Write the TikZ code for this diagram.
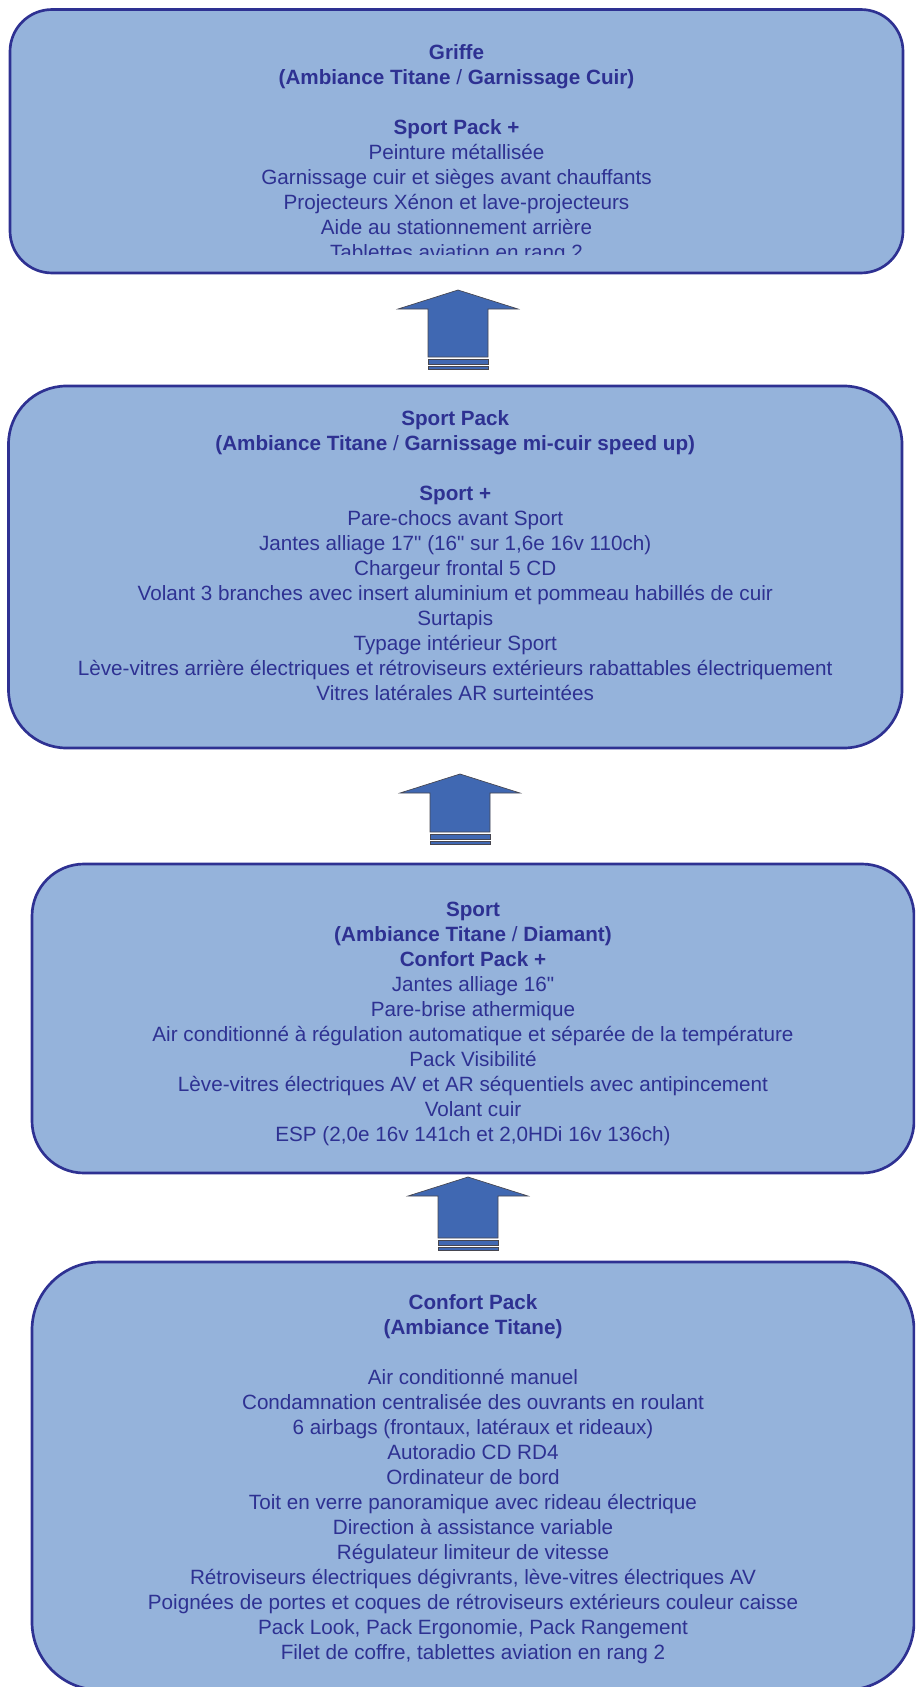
\documentclass[tikz,border=0pt]{standalone}
\usepackage{fontspec}
\setmainfont{Liberation Sans}[Ligatures=TeXOff]
\usepackage{xcolor}
\usetikzlibrary{positioning}

\definecolor{boxfill}{RGB}{149,179,219}
\definecolor{boxline}{RGB}{46,49,146}
\definecolor{boxtext}{RGB}{46,49,146}
\definecolor{arrowfill}{RGB}{64,104,178}
\definecolor{arrowline}{RGB}{70,70,80}

\tikzset{
  levelbox/.style={draw=boxline, line width=2pt, fill=boxfill, rectangle, inner sep=0pt},
  leveltext/.style={align=center, inner sep=0pt, text=boxtext,
    font=\fontsize{15.5pt}{18.75pt}\selectfont},
  pics/upgrade/.style={code={
    \filldraw[fill=arrowfill, draw=arrowline, line width=0.5pt]
      (0,0) -- (60,19) -- (30,19) -- (30,#1) -- (-30,#1) -- (-30,19) -- (-60,19) -- cycle;
    \filldraw[fill=arrowfill, draw=arrowline, line width=0.5pt] (-30,#1+2) rectangle (30,#1+7);
    \filldraw[fill=arrowfill, draw=arrowline, line width=0.5pt] (-30,#1+9.5) rectangle (30,#1+12);
  }}
}

\begin{document}
\begin{tikzpicture}[x=0.75pt, y=-0.75pt]
  \useasboundingbox (0,0) rectangle (915,1687);
  \clip (0,0) rectangle (915,1687);

  % the four levels, top to bottom
  \node[levelbox, rounded corners=31.5pt, minimum width=669.75pt, minimum height=197.6pt] (griffe) at (456.5,141.25) {};
  \node[levelbox, rounded corners=43.5pt, minimum width=670.1pt, minimum height=271.5pt] (sportpack) at (455.25,567) {};
  \node[levelbox, rounded corners=39pt, minimum width=661.5pt, minimum height=231.75pt] (sport) at (473,1018.5) {};
  \node[levelbox, rounded corners=51pt, minimum width=661.5pt, minimum height=321pt] (confort) at (473,1476) {};

  \begin{scope}
    \clip (griffe.north west) rectangle ([yshift=15pt]griffe.south east);
    \node[leveltext, below=27.4pt of griffe.north] (griffetext) {%
      \textbf{Griffe}\\
      \textbf{(Ambiance Titane} / \textbf{Garnissage Cuir)}\\[18.75pt]
      \textbf{Sport Pack +}\\
      Peinture métallisée\\
      Garnissage cuir et sièges avant chauffants\\
      Projecteurs Xénon et lave-projecteurs\\
      Aide au stationnement arrière\\
      Tablettes aviation en rang 2};
  \end{scope}

  \node[leveltext, below=19.5pt of sportpack.north] (sportpacktext) {%
    \textbf{Sport Pack}\\
    \textbf{(Ambiance Titane} / \textbf{Garnissage mi-cuir speed up)}\\[18.75pt]
    \textbf{Sport +}\\
    Pare-chocs avant Sport\\
    Jantes alliage 17" (16" sur 1,6e 16v 110ch)\\
    Chargeur frontal 5 CD\\
    Volant 3 branches avec insert aluminium et pommeau habillés de cuir\\
    Surtapis\\
    Typage intérieur Sport\\
    Lève-vitres arrière électriques et rétroviseurs extérieurs rabattables électriquement\\
    Vitres latérales AR surteintées};

  \node[leveltext, below=29pt of sport.north] (sporttext) {%
    \textbf{Sport}\\
    \textbf{(Ambiance Titane} / \textbf{Diamant)}\\
    \textbf{Confort Pack +}\\
    Jantes alliage 16"\\
    Pare-brise athermique\\
    Air conditionné à régulation automatique et séparée de la température\\
    Pack Visibilité\\
    Lève-vitres électriques AV et AR séquentiels avec antipincement\\
    Volant cuir\\
    ESP (2,0e 16v 141ch et 2,0HDi 16v 136ch)};

  \node[leveltext, below=25pt of confort.north] (conforttext) {%
    \textbf{Confort Pack}\\
    \textbf{(Ambiance Titane)}\\[18.75pt]
    Air conditionné manuel\\
    Condamnation centralisée des ouvrants en roulant\\
    6 airbags (frontaux, latéraux et rideaux)\\
    Autoradio CD RD4\\
    Ordinateur de bord\\
    Toit en verre panoramique avec rideau électrique\\
    Direction à assistance variable\\
    Régulateur limiteur de vitesse\\
    Rétroviseurs électriques dégivrants, lève-vitres électriques AV\\
    Poignées de portes et coques de rétroviseurs extérieurs couleur caisse\\
    Pack Look, Pack Ergonomie, Pack Rangement\\
    Filet de coffre, tablettes aviation en rang 2};

  % striped arrows between levels
  \pic at (458,290) {upgrade=67};
  \pic at (460,774) {upgrade=58};
  \pic at (468,1177) {upgrade=61};
\end{tikzpicture}
\end{document}
